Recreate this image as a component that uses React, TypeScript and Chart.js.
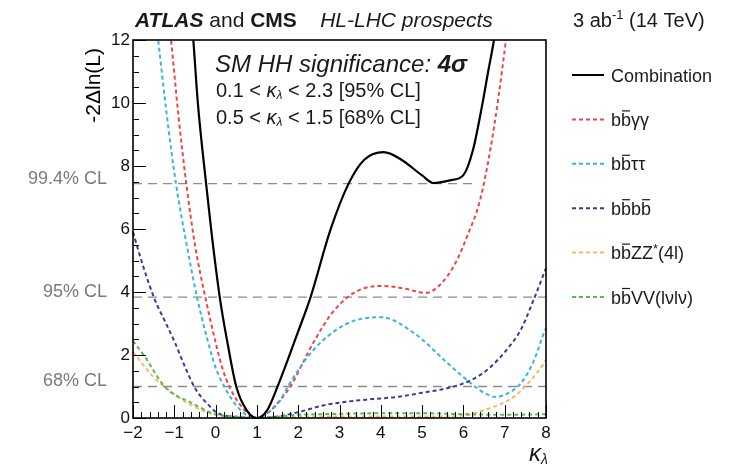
import React, { useEffect, useRef } from 'react';
import { Chart, registerables } from 'chart.js';

Chart.register(...registerables);

const W = 739;
const H = 476;
const FF = "'Liberation Sans', Arial, sans-serif";

// ---- data (kappa_lambda, -2 Delta ln L) ----
const combX = [-0.65, -0.54, -0.43, -0.23, -0.1, 0.1, 0.3, 0.5, 0.75, 1.0, 1.25, 1.5, 2.0, 2.3, 2.78, 3.22, 3.6, 4.07, 4.5, 5.0, 5.28, 5.7, 6.0, 6.23, 6.45, 6.6, 6.74, 6.85];
const combY = [13.6, 12, 10, 7.44, 5.9, 3.84, 2.3, 1.0, 0.25, 0, 0.25, 1.0, 2.75, 3.84, 5.97, 7.44, 8.2, 8.44, 8.2, 7.7, 7.46, 7.55, 7.71, 8.5, 9.9, 11, 12, 13];

const yyX = [-1.2, -1.08, -0.9, -0.71, -0.5, -0.25, 0.0, 0.16, 0.35, 0.7, 1.0, 1.3, 1.55, 1.81, 2.37, 2.8, 3.2, 3.6, 4.07, 4.6, 5.09, 5.45, 5.8, 6.1, 6.4, 6.65, 6.85, 7.03, 7.12];
const yyY = [13.3, 12, 9.6, 7.44, 5.5, 3.84, 2.4, 1.6, 0.95, 0.25, 0, 0.2, 0.55, 1.0, 2.4, 3.3, 3.84, 4.12, 4.19, 4.1, 3.97, 4.25, 4.9, 5.8, 6.9, 8.5, 10.2, 12, 13];

const ttX = [-1.5, -1.39, -1.18, -0.96, -0.7, -0.45, -0.2, 0.0, 0.23, 0.5, 0.8, 1.0, 1.2, 1.57, 1.75, 2.37, 3.19, 4.0, 4.8, 5.62, 6.18, 6.5, 6.79, 7.1, 7.39, 7.7, 7.95, 8.0];
const ttY = [13.3, 12, 9.6, 7.44, 5.5, 3.84, 2.5, 1.6, 0.95, 0.4, 0.05, 0, 0.1, 0.57, 1.0, 2.16, 3.0, 3.2, 2.7, 1.74, 1.1, 0.8, 0.67, 0.8, 1.1, 1.8, 2.7, 2.85];

const bbX = [-2, -1.75, -1.47, -1.2, -0.98, -0.75, -0.5, -0.2, 0.06, 0.5, 1.0, 1.5, 2.05, 2.6, 3.19, 3.8, 4.4, 5.0, 5.62, 6.1, 6.5, 6.83, 7.1, 7.39, 7.7, 8.0];
const bbY = [5.9, 4.8, 3.75, 3.0, 2.38, 1.65, 0.95, 0.45, 0.15, 0.03, 0, 0.05, 0.2, 0.4, 0.52, 0.6, 0.67, 0.8, 0.95, 1.15, 1.45, 1.84, 2.25, 2.8, 3.75, 4.76];

const zzX = [-2, -1.7, -1.5, -1, -0.5, 0, 0.5, 1, 2, 3, 4, 5, 6, 6.5, 7.22, 7.6, 7.95, 8];
const zzY = [2.1, 1.6, 1.3, 0.75, 0.35, 0.1, 0.02, 0, 0.03, 0.05, 0.05, 0.05, 0.08, 0.25, 0.67, 1.15, 1.74, 1.85];

const vvX = [-2, -1.71, -1.22, -0.57, 0, 0.5, 1, 2, 3, 4, 5, 6, 7, 8];
const vvY = [2.45, 1.94, 0.98, 0.47, 0.12, 0.05, 0, 0.1, 0.13, 0.15, 0.15, 0.12, 0.1, 0.12];

const seriesNames = ['Combination', 'bb\u0304\u03b3\u03b3', 'bb\u0304\u03c4\u03c4', 'bb\u0304bb\u0304', 'bb\u0304ZZ*(4l)', 'bb\u0304VV(l\u03bdl\u03bd)'];
const seriesColors = ['#000000', '#ef4545', '#3ab4e4', '#3a3a9c', '#f6b866', '#55bb55'];
const seriesX = [combX, yyX, ttX, bbX, zzX, vvX];
const seriesY = [combY, yyY, ttY, bbY, zzY, vvY];

const clLevels = [1.0, 3.84, 7.44];
const clXmax = [8, 8, 6.23];
const clLabels = ['68% CL', '95% CL', '99.4% CL'];

const xMin = -2, xMax = 8, yMin = 0, yMax = 12;

type Seg = { t: string; f: string; dy?: number; over?: boolean; color?: string };

function drawRich(ctx: CanvasRenderingContext2D, x: number, y: number, segs: Seg[], align = 'left', color = '#1a1a1a') {
  let total = 0;
  const ws = segs.map((s) => {
    ctx.font = s.f;
    const w = ctx.measureText(s.t).width;
    total += w;
    return w;
  });
  let cx = align === 'right' ? x - total : align === 'center' ? x - total / 2 : x;
  ctx.textAlign = 'left';
  ctx.textBaseline = 'alphabetic';
  segs.forEach((s, i) => {
    ctx.font = s.f;
    ctx.fillStyle = s.color || color;
    const yy = y + (s.dy || 0);
    ctx.fillText(s.t, cx, yy);
    if (s.over) {
      const m = ctx.measureText(s.t);
      const top = yy - m.actualBoundingBoxAscent - 2;
      ctx.strokeStyle = s.color || color;
      ctx.lineWidth = 1.2;
      ctx.setLineDash([]);
      ctx.beginPath();
      ctx.moveTo(cx + 1, top);
      ctx.lineTo(cx + ws[i] - 1, top);
      ctx.stroke();
    }
    cx += ws[i];
  });
}

function parseName(name: string, size: number): Seg[] {
  const segs: Seg[] = [];
  const f = `${size}px ${FF}`;
  for (let i = 0; i < name.length; i++) {
    const c = name[i];
    if (c === '\u0304') continue;
    if (name[i + 1] === '\u0304') {
      segs.push({ t: c, f, over: true });
    } else if (c === '*') {
      segs.push({ t: c, f: `${Math.round(size * 0.7)}px ${FF}`, dy: -6 });
    } else {
      const last = segs[segs.length - 1];
      if (last && !last.over && !last.dy && last.f === f) last.t += c;
      else segs.push({ t: c, f });
    }
  }
  return segs;
}

const decorPlugin = {
  id: 'decor',
  afterDatasetsDraw(chart: any) {
    const ctx: CanvasRenderingContext2D = chart.ctx;
    const { left, top, right, bottom } = chart.chartArea;
    const xs = chart.scales.x;
    const ys = chart.scales.y;
    ctx.save();
    // ticks (inside frame)
    ctx.strokeStyle = '#000';
    ctx.lineWidth = 1;
    ctx.setLineDash([]);
    ctx.beginPath();
    for (let v = yMin; v <= yMax + 1e-9; v += 0.5) {
      const p = Math.round(ys.getPixelForValue(v)) + 0.5;
      const len = Math.abs(v % 2) < 1e-9 ? 13 : 6;
      ctx.moveTo(left, p);
      ctx.lineTo(left + len, p);
    }
    for (let i = 0; i <= (xMax - xMin) * 5; i++) {
      const v = xMin + i * 0.2;
      const p = Math.round(xs.getPixelForValue(v)) + 0.5;
      const len = i % 5 === 0 ? 13 : 6;
      ctx.moveTo(p, bottom);
      ctx.lineTo(p, bottom - len);
    }
    ctx.stroke();
    // frame
    ctx.lineWidth = 1.6;
    ctx.strokeRect(left, top, right - left, bottom - top);

    // CL labels
    ctx.textAlign = 'right';
    ctx.textBaseline = 'middle';
    ctx.fillStyle = '#7a7a7a';
    ctx.font = `18px ${FF}`;
    clLevels.forEach((lv, i) => {
      ctx.fillText(clLabels[i], 107, ys.getPixelForValue(lv) - 5);
    });

    // title
    drawRich(ctx, 135, 27, [
      { t: 'ATLAS', f: `italic bold 21px ${FF}` },
      { t: ' and ', f: `21px ${FF}` },
      { t: 'CMS', f: `bold 21px ${FF}` },
      { t: '    HL-LHC prospects', f: `italic 21px ${FF}` },
    ]);
    drawRich(ctx, 573, 27, [
      { t: '3 ab', f: `20px ${FF}` },
      { t: '-1', f: `13px ${FF}`, dy: -8 },
      { t: ' (14 TeV)', f: `20px ${FF}` },
    ]);

    // inner text
    drawRich(ctx, 215, 72, [
      { t: 'SM HH significance: ', f: `italic 24px ${FF}` },
      { t: '4\u03c3', f: `italic bold 24px ${FF}` },
    ]);
    const kl = (pre: string, post: string, y: number) =>
      drawRich(ctx, 216, y, [
        { t: pre, f: `20px ${FF}` },
        { t: '\u03ba', f: `italic 20px ${FF}` },
        { t: '\u03bb', f: `italic 12px ${FF}`, dy: 2 },
        { t: post, f: `20px ${FF}` },
      ]);
    kl('0.1 < ', ' < 2.3 [95% CL]', 97);
    kl('0.5 < ', ' < 1.5 [68% CL]', 124);

    // axis titles
    drawRich(ctx, 548, 461, [
      { t: '\u03ba', f: `italic 24px ${FF}` },
      { t: '\u03bb', f: `italic 14px ${FF}`, dy: 3 },
    ], 'right');
    ctx.save();
    ctx.translate(100, 48);
    ctx.rotate(-Math.PI / 2);
    drawRich(ctx, 0, 0, [{ t: '-2\u0394ln(L)', f: `21px ${FF}` }], 'right', '#000');
    ctx.restore();

    // legend
    seriesNames.forEach((name, i) => {
      const cy = 75 + i * 44.4;
      ctx.strokeStyle = seriesColors[i];
      ctx.lineWidth = 2;
      ctx.setLineDash(i === 0 ? [] : [4, 3]);
      ctx.beginPath();
      ctx.moveTo(572, cy);
      ctx.lineTo(604, cy);
      ctx.stroke();
      ctx.setLineDash([]);
      drawRich(ctx, 611, cy + 6.5, parseName(name, 18));
    });
    ctx.restore();
  },
};

export default function App() {
  const ref = useRef<HTMLCanvasElement | null>(null);
  useEffect(() => {
    if (!ref.current) return;
    const datasets: any[] = [];
    seriesNames.forEach((name, i) => {
      datasets.push({
        label: name,
        data: seriesX[i].map((x, j) => ({ x, y: seriesY[i][j] })),
        borderColor: seriesColors[i],
        borderWidth: i === 0 ? 2.2 : 2,
        borderDash: i === 0 ? [] : [4, 3],
        showLine: true,
        pointRadius: 0,
        cubicInterpolationMode: 'monotone',
        fill: false,
        order: i === 0 ? 0 : 1 + (6 - i),
        clip: { left: 1, top: 0, right: 1, bottom: 2 },
      });
    });
    clLevels.forEach((lv, i) => {
      datasets.push({
        label: clLabels[i],
        data: [{ x: xMin, y: lv }, { x: clXmax[i], y: lv }],
        borderColor: '#8c8c8c',
        borderWidth: 1.3,
        borderDash: [9, 6],
        showLine: true,
        pointRadius: 0,
        fill: false,
        order: 20,
      });
    });
    const chart = new Chart(ref.current, {
      type: 'scatter',
      data: { datasets },
      options: {
        animation: false,
        responsive: false,
        maintainAspectRatio: false,
        devicePixelRatio: 1,
        layout: { padding: { left: 0, top: 40, right: W - 546, bottom: 0 } },
        plugins: { legend: { display: false }, tooltip: { enabled: false } },
        scales: {
          x: {
            type: 'linear',
            min: xMin,
            max: xMax,
            grid: { display: false, drawTicks: false },
            border: { display: false },
            ticks: {
              stepSize: 1,
              padding: 5,
              color: '#111',
              font: { family: FF, size: 17 },
              maxRotation: 0,
              callback: (v: any) => (Number.isInteger(v) ? String(v).replace('-', '\u2212') : ''),
            },
            afterFit: (s: any) => {
              s.height = H - 418;
            },
          },
          y: {
            type: 'linear',
            min: yMin,
            max: yMax,
            grid: { display: false, drawTicks: false },
            border: { display: false },
            ticks: {
              stepSize: 2,
              padding: 3,
              color: '#111',
              font: { family: FF, size: 17 },
            },
            afterFit: (s: any) => {
              s.width = 133;
            },
          },
        },
      },
      plugins: [decorPlugin],
    });
    return () => chart.destroy();
  }, []);
  return (
    <div style={{ position: 'fixed', left: 0, top: 0, width: W, height: H, background: '#fff' }}>
      <canvas ref={ref} width={W} height={H} style={{ width: W, height: H, display: 'block' }} />
    </div>
  );
}
